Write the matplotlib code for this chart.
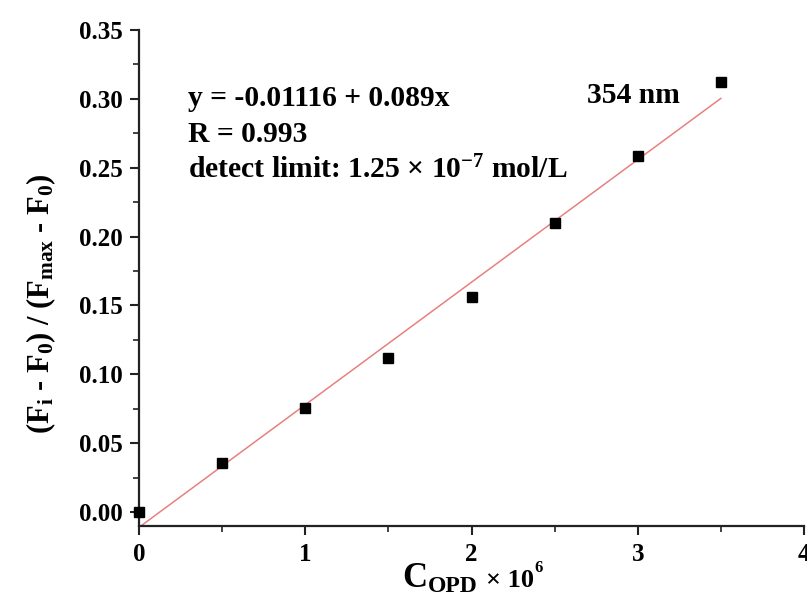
import matplotlib
matplotlib.use("Agg")
import matplotlib.pyplot as plt
from matplotlib.ticker import MultipleLocator
import numpy as np

# Data
conc = [0.0, 0.5, 1.0, 1.5, 2.0, 2.5, 3.0, 3.5]
ratio = [0.000, 0.0355, 0.0755, 0.1115, 0.156, 0.2095, 0.2585, 0.3125]
intercept = -0.01116
slope = 0.089
x_ticks = [0, 1, 2, 3, 4]
y_ticks = [0.00, 0.05, 0.10, 0.15, 0.20, 0.25, 0.30, 0.35]

plt.rcParams['font.family'] = ['Liberation Serif', 'DejaVu Serif']
plt.rcParams['font.weight'] = 'bold'
plt.rcParams['mathtext.fontset'] = 'custom'
plt.rcParams['mathtext.rm'] = 'Liberation Serif:bold'
plt.rcParams['mathtext.it'] = 'Liberation Serif:bold'
plt.rcParams['mathtext.bf'] = 'Liberation Serif:bold'

W, H = 807, 601
fig = plt.figure(figsize=(W/100, H/100), dpi=100)
ax = fig.add_axes([139/W, 1-526/H, (804-139)/W, (526-30)/H])

fit_x = np.array([conc[0], conc[-1]])
ax.plot(fit_x, intercept + slope*fit_x, color='#e88080', lw=1.1, zorder=2)
ax.plot(conc, ratio, 's', color='black', markersize=7.8, zorder=3, clip_on=False)

ax.set_xlim(0, 4)
ax.set_ylim(-0.0102, 0.35)
ax.set_xticks(x_ticks)
ax.set_yticks(y_ticks)
ax.set_xticklabels([str(t) for t in x_ticks])
ax.set_yticklabels([f"{t:.2f}" for t in y_ticks])
ax.xaxis.set_minor_locator(MultipleLocator(0.5))
ax.yaxis.set_minor_locator(MultipleLocator(0.025))

for s in ['top', 'right']:
    ax.spines[s].set_visible(False)
for s in ['left', 'bottom']:
    ax.spines[s].set_linewidth(1.6)
    ax.spines[s].set_color('#222222')

ax.tick_params(which='major', direction='out', length=6.5, width=1.5, labelsize=18, color='#222222', pad=5.5)
ax.tick_params(which='minor', direction='out', length=4, width=1.2, color='#222222')

# x-axis label built from pieces (large C, subscript OPD, x 10, superscript 6)
fig.text(402/W, 1-587/H, 'C', fontsize=25, fontweight='bold', ha='left', va='baseline')
fig.text(428/W, 1-592/H, 'OPD', fontsize=17, fontweight='bold', ha='left', va='baseline')
fig.text(486/W, 1-587/H, '× 10', fontsize=19, fontweight='bold', ha='left', va='baseline')
fig.text(534/W, 1-572/H, '6', fontsize=12, fontweight='bold', ha='left', va='baseline')

fig.text(41/W, 1-304/H, r'(F$_i$ - F$_0$) / (F$_{max}$ - F$_0$)', fontsize=22, fontweight='bold',
         ha='center', va='center', rotation=90)

ann_size = 21.3
fig.text(188/W, 1-106/H, 'y = -0.01116 + 0.089x', fontsize=ann_size, fontweight='bold', va='baseline', ha='left')
fig.text(188/W, 1-142/H, 'R = 0.993', fontsize=ann_size, fontweight='bold', va='baseline', ha='left')
fig.text(188/W, 1-178/H, r'detect limit: 1.25 × 10$^{-7}$ mol/L', fontsize=ann_size, fontweight='bold', va='baseline', ha='left')
fig.text(587/W, 1-103/H, '354 nm', fontsize=ann_size, fontweight='bold', va='baseline', ha='left')

fig.savefig('out.png', dpi=100)
